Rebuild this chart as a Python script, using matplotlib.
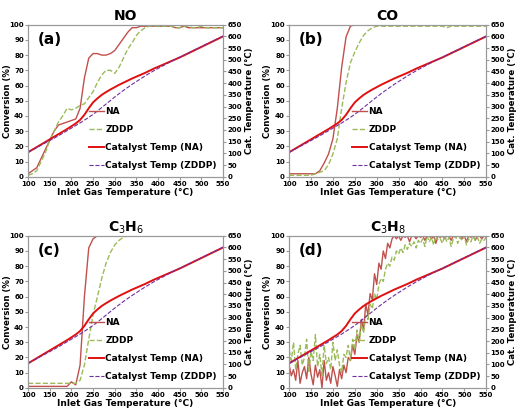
import numpy as np
import matplotlib
matplotlib.use("Agg")
import matplotlib.pyplot as plt

x10 = list(range(100, 551, 10))
x5 = list(range(100, 551, 5))

cat_na = [105,116,127,138,149,160,171,182,193,204,216,228,243,265,293,318,335,350,362,373,383,393,402,411,420,428,436,444,453,462,470,478,486,494,502,510,519,528,537,546,555,564,573,582,591,600]
cat_zddp = [105,115,125,135,145,155,165,175,186,197,208,219,230,242,254,267,281,296,311,326,341,355,369,382,395,407,419,431,442,453,463,473,483,493,502,511,520,529,538,547,556,565,574,583,592,601]

no_na = [2,4,6,12,18,24,30,34,35,36,37,38,45,65,78,81,81,80,80,81,83,87,91,95,98,98,99,99,99,99,99,99,99,99,98,98,99,98,98,98,98,98,98,98,98,98]
no_zddp = [1,2,4,10,16,24,30,36,40,45,44,45,47,48,52,56,62,67,70,70,68,72,78,84,88,93,96,98,99,99,99,99,99,99,98,98,99,99,98,98,99,98,98,98,98,98]
co_na = [2,2,2,2,2,2,2,4,9,15,25,45,72,92,99,100,100,100,100,100,100,100,100,100,100,100,100,100,100,100,100,100,100,100,100,100,100,100,100,100,100,100,100,100,100,100]
co_zddp = [1,1,1,1,1,1,2,3,4,8,15,25,45,62,75,82,88,93,96,98,99,99,99,99,99,99,99,99,99,99,99,99,99,99,99,99,98,99,99,99,99,99,99,99,99,99]
c3h6_na = [1,1,1,1,1,1,1,1,1,1,4,2,15,60,92,98,100,100,100,100,100,100,100,100,100,100,100,100,100,100,100,100,100,100,100,100,100,100,100,100,100,100,100,100,100,100]
c3h6_zddp = [3,3,3,3,3,3,3,3,3,3,3,3,5,15,32,48,60,72,82,89,94,97,99,100,100,100,100,100,100,100,100,100,100,100,100,100,100,100,100,100,100,100,100,100,100,100]
c3h8_na = [15,8,12,5,18,3,10,14,6,20,9,2,15,7,12,0,18,5,10,3,14,8,1,12,6,
           15,10,20,18,28,22,35,30,45,38,55,48,62,58,75,68,82,78,90,85,95,92,98,100,
           98,100,97,100,99,100,96,100,100,98,100,99,100,97,100,100,98,100,95,100,99,100,98,100,100,97,100,99,100,100,98,100,96,100,99,100,97,100,100,98,100,99]
c3h8_zddp = [25,18,30,12,22,28,15,20,32,10,24,18,35,14,22,8,28,16,20,12,30,18,25,15,10,22,
             20,28,18,32,25,38,30,42,36,48,45,55,52,62,58,68,72,70,78,82,80,86,84,90,88,92,89,94,91,95,93,96,92,97,95,
             98,93,100,96,99,94,100,97,98,95,100,96,99,93,98,100,95,99,97,100,94,98,96,100,97,99,95,98,97,99]

panels = [
    ("NO", "(a)", x10, no_na, no_zddp),
    ("CO", "(b)", x10, co_na, co_zddp),
    ("C$_3$H$_6$", "(c)", x10, c3h6_na, c3h6_zddp),
    ("C$_3$H$_8$", "(d)", x5, c3h8_na, c3h8_zddp),
]
rects = [(0.054, 0.577, 0.375, 0.364), (0.556, 0.577, 0.379, 0.364),
         (0.054, 0.072, 0.375, 0.364), (0.556, 0.072, 0.379, 0.364)]

fig = plt.figure(figsize=(5.2, 4.18), dpi=100)
grey = "#999999"
for (title, lab, xs, na, zd), r in zip(panels, rects):
    ax = fig.add_axes(r)
    ax2 = ax.twinx()
    l1, = ax.plot(xs, na, color="#C0504D", lw=1.0, label="NA")
    l2, = ax.plot(xs, zd, color="#9BBB59", lw=1.0, ls="--", label="ZDDP")
    l3, = ax2.plot(x10, cat_na, color="#E01010", lw=1.4, label="Catalyst Temp (NA)")
    l4, = ax2.plot(x10, cat_zddp, color="#7030A0", lw=0.8, ls="--", label="Catalyst Temp (ZDDP)")
    ax.set_xlim(100, 550)
    ax.set_ylim(0, 100)
    ax2.set_ylim(0, 650)
    ax.set_xticks(range(100, 551, 50))
    ax.set_yticks(range(0, 101, 10))
    ax2.set_yticks(range(0, 651, 50))
    for a in (ax, ax2):
        for s in a.spines.values():
            s.set_color(grey)
        a.tick_params(labelsize=5, length=2, color=grey, pad=1)
        for t in a.get_xticklabels() + a.get_yticklabels():
            t.set_fontweight("bold")
    ax.set_xlabel("Inlet Gas Temperature (°C)", fontsize=6.5, fontweight="bold", labelpad=1)
    ax.set_ylabel("Conversion (%)", fontsize=6.2, fontweight="bold", labelpad=0)
    ax.yaxis.set_label_coords(-0.085, 0.5)
    ax2.set_ylabel("Cat. Temperature (°C)", fontsize=6.2, fontweight="bold", labelpad=2)
    ax.set_title(title, fontsize=10, fontweight="bold", pad=3)
    ax.text(0.05, 0.95, lab, transform=ax.transAxes, fontsize=11, fontweight="bold", va="top")
    ax2.legend([l1, l2, l3, l4], [l.get_label() for l in (l1, l2, l3, l4)],
               loc="lower right", bbox_to_anchor=(1.01, -0.01), frameon=False,
               prop={"size": 6.5, "weight": "bold"}, handlelength=1.6,
               labelspacing=1.0, handletextpad=0.2)
fig.savefig("out.png", dpi=100)
